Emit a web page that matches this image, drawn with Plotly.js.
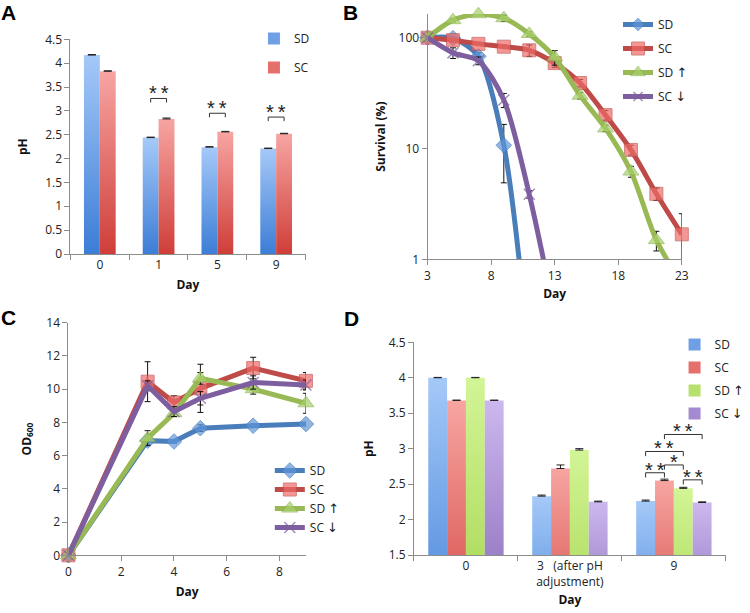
<!DOCTYPE html>
<html><head><meta charset="utf-8">
<script src="https://cdn.plot.ly/plotly-3.0.1.min.js"></script>
<style>html,body{margin:0;padding:0;background:#fff}#chart{width:750px;height:613px}</style>
</head><body><div id="chart"></div>
<script>
// ---------- Panel A data ----------
const daysA = ['0', '1', '5', '9'];
const phA_SD = [4.17, 2.44, 2.24, 2.21];
const phA_SC = [3.83, 2.83, 2.56, 2.52];
const errA_SD = [0.01, 0.01, 0.01, 0.01];
const errA_SC = [0.01, 0.02, 0.01, 0.01];
const sigA_cat = [1, 2, 3];
const sigA_level = [3.26, 2.95, 2.87];
const sigA_label = ['**', '**', '**'];

// ---------- Panel B data ----------
const daysB_SD = [3, 5, 7, 9, 11];
const survB_SD = [100, 99, 68, 10.7, 0.13];
const errB_SD = [0, 3, 5, 5.8, 0];
const daysB_SC = [3, 5, 7, 9, 11, 13, 15, 17, 19, 21, 23];
const survB_SC = [100, 95, 88, 83, 77, 59, 39, 20, 9.7, 3.9, 1.68];
const errB_SC = [0, 3, 3, 3, 9, 5, 3, 2, 1, 0.5, 0.9];
const daysB_SDu = [3, 5, 7, 9, 11, 13, 15, 17, 19, 21, 23];
const survB_SDu = [100, 144, 163, 150, 108, 66.5, 30, 15.2, 6.2, 1.49, 0.6];
const errB_SDu = [0, 5, 5, 10, 5, 10, 2, 1, 0.7, 0.3, 0];
const daysB_SCd = [3, 5, 7, 9, 11, 13];
const survB_SCd = [100, 73, 62, 27.4, 3.86, 0.32];
const errB_SCd = [0, 8, 5, 4, 0.3, 0];

// ---------- Panel C data ----------
const daysC = [0, 3, 4, 5, 7, 9];
const odC_SD = [0, 6.9, 6.85, 7.65, 7.8, 7.9];
const errC_SD = [0, 0.25, 0.1, 0.2, 0.1, 0.1];
const odC_SC = [0, 10.45, 9.2, 10.05, 11.27, 10.5];
const errC_SC = [0, 1.2, 0.4, 1.45, 0.65, 0.5];
const odC_SDu = [0, 7.05, 8.55, 10.65, 10.0, 9.15];
const errC_SDu = [0, 0.45, 0.2, 0.35, 0.3, 0.6];
const odC_SCd = [0, 10.2, 8.65, 9.45, 10.4, 10.25];
const errC_SCd = [0, 0.3, 0.3, 0.4, 0.4, 0.3];

// ---------- Panel D data ----------
const catsD = ['0', '3   (after pH<br>adjustment)', '9'];
const phD_SD = [4.0, 2.33, 2.26];
const errD_SD = [0.005, 0.015, 0.015];
const phD_SC = [3.68, 2.72, 2.55];
const errD_SC = [0.005, 0.05, 0.02];
const phD_SDu = [4.0, 2.98, 2.44];
const errD_SDu = [0.005, 0.02, 0.015];
const phD_SCd = [3.68, 2.25, 2.24];
const errD_SCd = [0.005, 0.01, 0.01];
// significance brackets at day 9: [from bar, to bar, level, label]
const sigD_from = [0, 1, 2, 0, 1];
const sigD_to = [1, 2, 3, 2, 3];
const sigD_level = [2.66, 2.77, 2.56, 2.96, 3.2];
const sigD_label = ['**', '*', '**', '**', '**'];
const sigD_cat = 2;

const ARW = s => '<span style="font-family:DejaVu Sans;font-size:13px">' + s + '</span>';
const names = ['SD', 'SC', 'SD ' + ARW('\u2191'), 'SC ' + ARW('\u2193')];

// ---------- styles ----------
const FONT = 'Open Sans, Liberation Sans, sans-serif';
const lineCol = ['#4a7ebb', '#be4b48', '#98b954', '#7d5fa0'];
const mkFill = ['#5f96d8', '#ee6b67', '#a6cf68', '#8064a2'];
const mkLine = ['#3f75b8', '#c0504d', '#8fb24f', '#7d5fa0'];
const mkSym = ['diamond', 'square', 'triangle-up', 'x-thin'];
const mkSize = [12, 13, 14, 11];
const solidBar = ['#6fa0e6', '#e5706b', '#b8e06c', '#a48ad0'];
const gradTop = ['#a5c9f8', '#f7a5a2', '#d2f596', '#ccb8ee'];
const gradBot = ['#3c7dd6', '#cf3e39', '#a0d046', '#7c5aae'];

const zeros = a => a.map(() => 0);
const bargapA = 0.46, bargapD = 0.275;
const bwA = (1 - bargapA) / 2;
const bwD = (1 - bargapD) / 4;

const traces = [];
function barTrace(x, y, err, i, k, n, bw, xa, ya, leg, uid) {
  return {type: 'bar', x: x, y: y, name: names[i], uid: uid,
    xaxis: xa, yaxis: ya, legend: leg, legendgroup: leg + i,
    width: bw, offset: (-n / 2 + k) * bw,
    marker: {color: solidBar[i], line: {width: 0}},
    error_y: {type: 'data', array: err, arrayminus: zeros(err), symmetric: false,
      color: '#222', thickness: 1, width: 4}};
}
traces.push(barTrace(daysA, phA_SD, errA_SD, 0, 0, 2, bwA, 'x', 'y', 'legend', 'A0'));
traces.push(barTrace(daysA, phA_SC, errA_SC, 1, 1, 2, bwA, 'x', 'y', 'legend', 'A1'));

function lineTrace(x, y, err, i, xa, ya, leg, shape, hideBelow) {
  const sizes = y.map(v => (hideBelow !== undefined && v < hideBelow) ? 0 : mkSize[i]);
  return {type: 'scatter', mode: 'lines+markers', x: x, y: y, name: names[i],
    xaxis: xa, yaxis: ya, legend: leg, legendgroup: leg + i, cliponaxis: false,
    line: {color: lineCol[i], width: 5, shape: shape, smoothing: 0.8},
    marker: {symbol: mkSym[i], size: sizes, color: mkFill[i],
      line: {color: mkLine[i], width: i === 3 ? 1.5 : 1}},
    error_y: {type: 'data', array: err, visible: true, color: '#111', thickness: 1, width: 3}};
}
traces.push(lineTrace(daysB_SD, survB_SD, errB_SD, 0, 'x2', 'y2', 'legend2', 'spline', 1));
traces.push(lineTrace(daysB_SC, survB_SC, errB_SC, 1, 'x2', 'y2', 'legend2', 'spline', 1));
traces.push(lineTrace(daysB_SDu, survB_SDu, errB_SDu, 2, 'x2', 'y2', 'legend2', 'spline', 1));
traces.push(lineTrace(daysB_SCd, survB_SCd, errB_SCd, 3, 'x2', 'y2', 'legend2', 'spline', 1));

traces.push(lineTrace(daysC, odC_SD, errC_SD, 0, 'x3', 'y3', 'legend3', 'linear'));
traces.push(lineTrace(daysC, odC_SC, errC_SC, 1, 'x3', 'y3', 'legend3', 'linear'));
traces.push(lineTrace(daysC, odC_SDu, errC_SDu, 2, 'x3', 'y3', 'legend3', 'linear'));
traces.push(lineTrace(daysC, odC_SCd, errC_SCd, 3, 'x3', 'y3', 'legend3', 'linear'));

traces.push(barTrace(catsD, phD_SD, errD_SD, 0, 0, 4, bwD, 'x4', 'y4', 'legend4', 'D0'));
traces.push(barTrace(catsD, phD_SC, errD_SC, 1, 1, 4, bwD, 'x4', 'y4', 'legend4', 'D1'));
traces.push(barTrace(catsD, phD_SDu, errD_SDu, 2, 2, 4, bwD, 'x4', 'y4', 'legend4', 'D2'));
traces.push(barTrace(catsD, phD_SCd, errD_SCd, 3, 3, 4, bwD, 'x4', 'y4', 'legend4', 'D3'));

// ---------- axes ----------
const tickF = {family: FONT, size: 12, color: '#222'};
const titleF = {family: FONT, size: 12, color: '#111', weight: 'bold'};
function ax(extra) {
  return Object.assign({showline: true, linecolor: '#8c8c8c', linewidth: 1, ticks: 'outside',
    ticklen: 5, tickcolor: '#8c8c8c', showgrid: false, zeroline: false, tickfont: tickF,
    fixedrange: true}, extra);
}

// ---------- brackets & stars ----------
const shapes = [], annotations = [];
function bracket(xr, yr, x0, x1, y, tick) {
  const s = {type: 'line', xref: xr, yref: yr, line: {color: '#333', width: 1}};
  shapes.push(Object.assign({x0: x0, x1: x1, y0: y, y1: y}, s));
  shapes.push(Object.assign({x0: x0, x1: x0, y0: y, y1: y - tick}, s));
  shapes.push(Object.assign({x0: x1, x1: x1, y0: y, y1: y - tick}, s));
}
function stars(xr, yr, x, y, label, shift) {
  annotations.push({xref: xr, yref: yr, x: x, y: y, text: label.split('').join('\u2009'),
    showarrow: false, yanchor: 'bottom', yshift: shift,
    font: {family: 'Liberation Sans, Arial, sans-serif', size: 20, color: '#222'}});
}
sigA_cat.forEach((c, k) => {
  bracket('x', 'y', c - bwA / 2, c + bwA / 2, sigA_level[k], 0.085);
  stars('x', 'y', c, sigA_level[k], sigA_label[k], -8);
});
sigD_from.forEach((f, k) => {
  const x0 = sigD_cat + (f - 1.5) * bwD, x1 = sigD_cat + (sigD_to[k] - 1.5) * bwD;
  bracket('x4', 'y4', x0, x1, sigD_level[k], 0.066);
  stars('x4', 'y4', (x0 + x1) / 2, sigD_level[k], sigD_label[k], -10);
});

// panel letters
[['A', 9, 12.5], ['B', 353.5, 12.5], ['C', 8.5, 317.5], ['D', 354, 318]].forEach(p => {
  annotations.push({xref: 'paper', yref: 'paper', x: p[1] / 750, y: 1 - p[2] / 613,
    xanchor: 'center', yanchor: 'middle', text: p[0], showarrow: false,
    font: {family: 'Liberation Sans, Arial, sans-serif', size: 21, weight: 'bold', color: '#000'}});
});

const legF = {family: FONT, size: 12, color: '#222'};
function leg(x, y, gap) {
  return {x: x, y: y, xanchor: 'left', yanchor: 'top', bgcolor: 'rgba(0,0,0,0)',
    font: legF, tracegroupgap: gap, traceorder: 'grouped', itemclick: false};
}

const layout = {
  width: 750, height: 613, margin: {l: 0, r: 0, t: 0, b: 0},
  paper_bgcolor: '#fff', plot_bgcolor: 'rgba(0,0,0,0)',
  font: {family: FONT, color: '#222'},
  barmode: 'overlay',
  xaxis: ax({domain: [71 / 750, 308 / 750], anchor: 'y', type: 'category', tickson: 'boundaries',
    title: {text: 'Day', font: titleF, standoff: 8}}),
  yaxis: ax({domain: [1 - 254 / 613, 1 - 39.3 / 613], anchor: 'x', range: [0, 4.5], dtick: 0.5,
    title: {text: 'pH', font: titleF, standoff: 14}}),
  xaxis2: ax({domain: [431 / 750, 687.3 / 750], anchor: 'y2', range: [3, 23], tickvals: [3, 8, 13, 18, 23],
    title: {text: 'Day', font: titleF, standoff: 6}}),
  yaxis2: ax({domain: [1 - 259.3 / 613, 1 - 14 / 613], anchor: 'x2', type: 'log', range: [0, 2.214],
    tickvals: [1, 10, 100], ticktext: ['1', '10', '100'],
    title: {text: 'Survival (%)', font: titleF, standoff: 10}}),
  xaxis3: ax({domain: [69 / 750, 308.4 / 750], anchor: 'y3', range: [0, 9], dtick: 2,
    title: {text: 'Day', font: titleF, standoff: 8}}),
  yaxis3: ax({domain: [1 - 555.3 / 613, 1 - 322.7 / 613], anchor: 'x3', range: [0, 14], dtick: 2,
    title: {text: 'OD<sub>600</sub>', font: titleF, standoff: 12}}),
  xaxis4: ax({domain: [417.3 / 750, 731.7 / 750], anchor: 'y4', type: 'category', tickson: 'boundaries',
    title: {text: 'Day', font: titleF, standoff: 6}}),
  yaxis4: ax({domain: [1 - 555 / 613, 1 - 342.3 / 613], anchor: 'x4', range: [1.5, 4.5], dtick: 0.5,
    title: {text: 'pH', font: titleF, standoff: 12}}),
  legend: leg(256 / 750, 1 - 24 / 613, 10),
  legend2: leg(623 / 750, 1 - 10 / 613, 5),
  legend3: leg(272 / 750, 1 - 456 / 613, 0),
  legend4: leg(680 / 750, 1 - 330 / 613, 4),
  shapes: shapes, annotations: annotations,
  showlegend: true
};

Plotly.newPlot('chart', traces, layout, {displayModeBar: false, staticPlot: true}).then(gd => {
  const ns = 'http://www.w3.org/2000/svg';
  const svg = gd.querySelector('svg.main-svg');
  const defs = svg.querySelector('defs');
  function grad(id, top, bot) {
    const g = document.createElementNS(ns, 'linearGradient');
    g.setAttribute('id', id);
    g.setAttribute('x1', '0'); g.setAttribute('y1', '0'); g.setAttribute('x2', '0'); g.setAttribute('y2', '1');
    [[0, top], [1, bot]].forEach(s => {
      const st = document.createElementNS(ns, 'stop');
      st.setAttribute('offset', s[0]); st.setAttribute('stop-color', s[1]);
      g.appendChild(st);
    });
    defs.appendChild(g);
  }
  for (let i = 0; i < 4; i++) grad('barGrad' + i, gradTop[i], gradBot[i]);
  const colorIdx = {A0: 0, A1: 1, D0: 0, D1: 1, D2: 2, D3: 3};
  gd.querySelectorAll('.barlayer .trace').forEach(g => {
    const d = g.__data__; const tr = d && d[0] && d[0].trace;
    if (!tr || colorIdx[tr.uid] === undefined) return;
    g.querySelectorAll('path').forEach(p => { p.style.fill = 'url(#barGrad' + colorIdx[tr.uid] + ')'; });
  });
  gd.querySelectorAll('.legend .traces').forEach(g => {
    const d = g.__data__; const tr = d && d[0] && d[0][0] && d[0][0].trace;
    if (!tr || tr.type !== 'bar' || colorIdx[tr.uid] === undefined) return;
    g.querySelectorAll('.legendpoints path').forEach(p => { p.style.fill = 'url(#barGrad' + colorIdx[tr.uid] + ')'; });
  });
});
</script>
</body></html>
